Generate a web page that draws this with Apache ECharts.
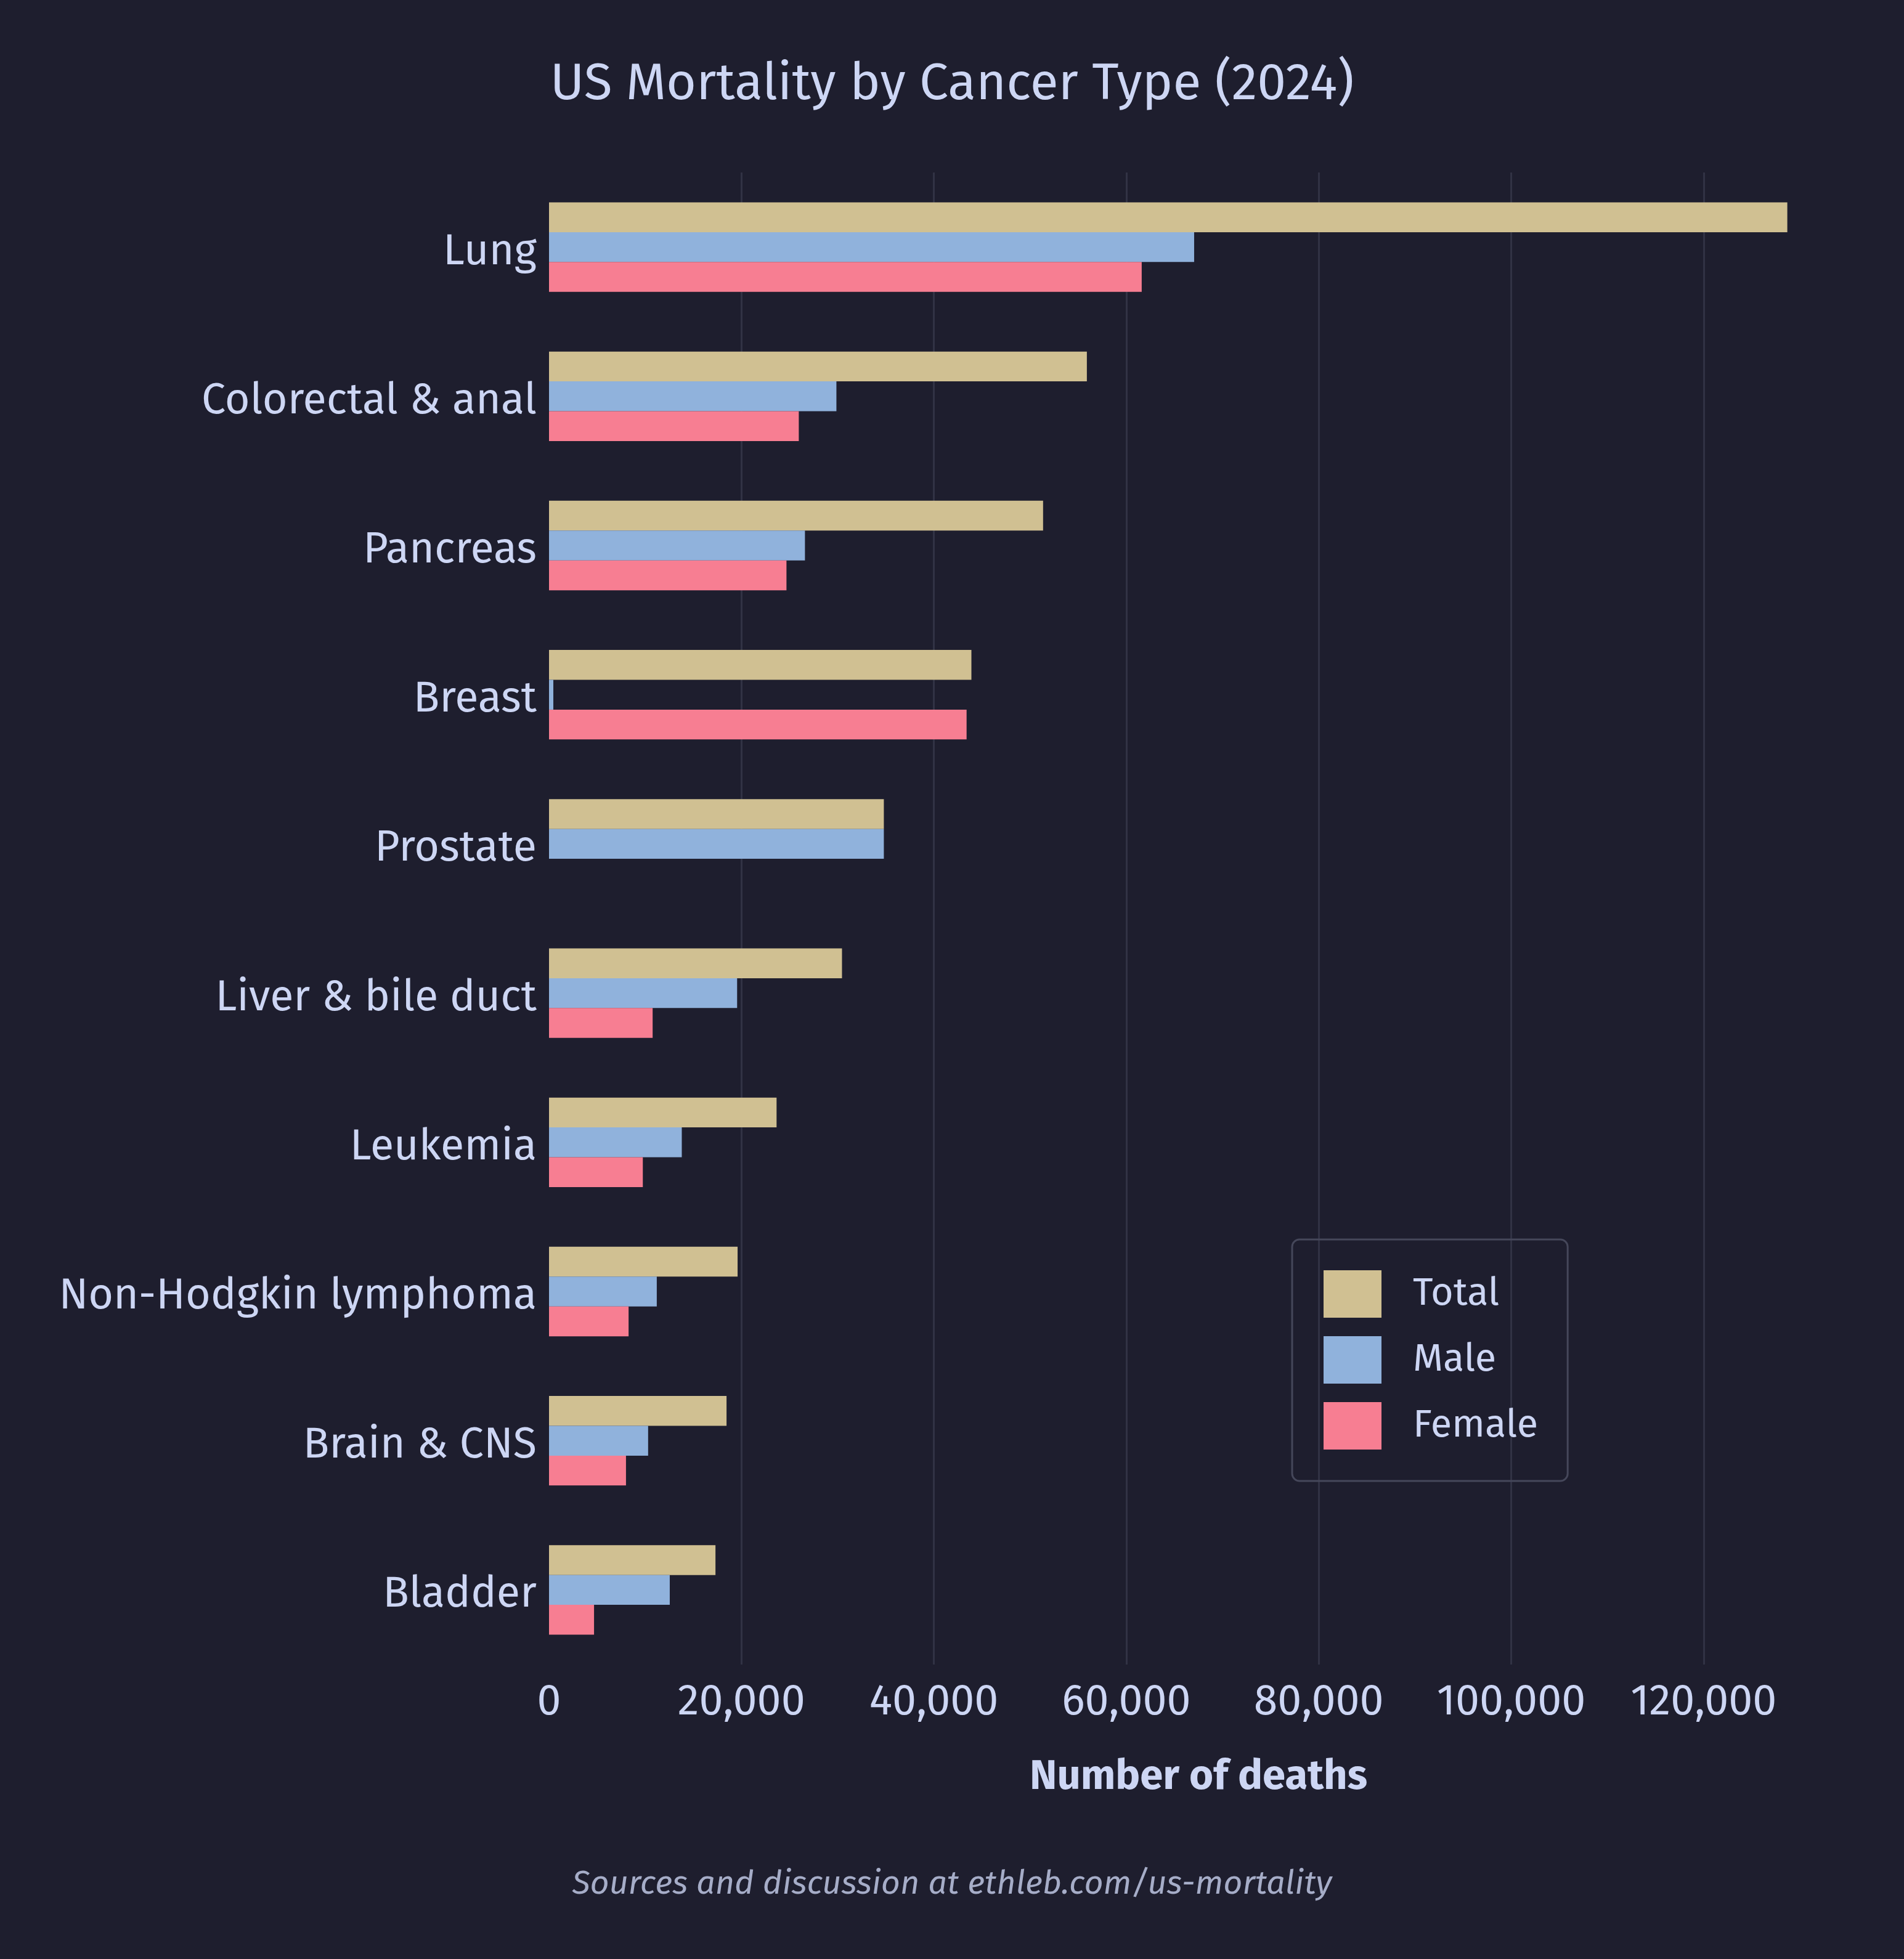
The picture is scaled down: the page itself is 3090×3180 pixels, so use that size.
<!DOCTYPE html>
<html>
<head>
<meta charset="utf-8">
<title>US Mortality by Cancer Type (2024)</title>
<script src="https://cdn.jsdelivr.net/npm/echarts@6/dist/echarts.min.js"></script>
<style>
  html, body { margin: 0; padding: 0; background: #1e1e2e; }
  #chart { width: 3090px; height: 3180px; }
</style>
</head>
<body>
<div id="chart"></div>
<script>
// categories, top to bottom
const categories = [
  'Lung', 'Colorectal & anal', 'Pancreas', 'Breast', 'Prostate',
  'Liver & bile duct', 'Leukemia', 'Non-Hodgkin lymphoma', 'Brain & CNS', 'Bladder'
];
// deaths
const totalDeaths  = [128700, 55900, 51350, 43900, 34800, 30450, 23650, 19600, 18450, 17300];
const maleDeaths   = [67050, 29870, 26600, 450, 34800, 19550, 13800, 11200, 10300, 12550];
const femaleDeaths = [61600, 25960, 24680, 43400, 0, 10770, 9750, 8270, 8000, 4680];
// x ticks with a gridline
const gridTicks = [20000, 40000, 60000, 80000, 100000, 120000];

const TEXT = '#cdd6f4';
const FONT = "'Fira Sans', 'Noto Sans', sans-serif";

const chart = echarts.init(document.getElementById('chart'));

const barSeries = (name, data, color) => ({
  name,
  type: 'bar',
  data,
  z: 3,
  barGap: '0%',
  barCategoryGap: '40%',
  itemStyle: { color },
  emphasis: { disabled: true },
});

chart.setOption({
  backgroundColor: '#1e1e2e',
  textStyle: { fontFamily: FONT },
  animation: false,
  title: [
    {
      text: 'US Mortality by Cancer Type (2024)',
      left: 'center',
      top: 96,
      padding: 0,
      textStyle: { color: TEXT, fontSize: 84, fontWeight: 'normal', fontFamily: FONT },
    },
    {
      text: 'Sources and discussion at ethleb.com/us-mortality',
      left: 'center',
      top: 3032,
      padding: 0,
      textStyle: { color: '#a6adc8', fontSize: 54, fontStyle: 'italic', fontWeight: 'normal', fontFamily: FONT },
    },
  ],
  legend: {
    data: ['Total', 'Male', 'Female'],
    orient: 'vertical',
    left: 2097,
    top: 2012,
    padding: [50, 48, 51, 51],
    icon: 'rect',
    itemWidth: 94,
    itemHeight: 77,
    itemGap: 30,
    borderColor: '#45475a',
    borderWidth: 3,
    borderRadius: 12,
    textStyle: { color: TEXT, fontSize: 63, fontFamily: FONT, padding: [4, 0, 0, 46] },
  },
  grid: { left: 891, top: 280, width: 2108, height: 2422, containLabel: false },
  xAxis: {
    type: 'value',
    min: 0,
    max: 135000,
    interval: 20000,
    name: 'Number of deaths',
    nameLocation: 'middle',
    nameGap: 150,
    nameTextStyle: { color: TEXT, fontSize: 67, fontWeight: 'bold', fontFamily: FONT },
    axisLine: { show: false },
    axisTick: { show: false },
    splitLine: { show: false },
    axisLabel: {
      color: TEXT,
      fontSize: 70,
      margin: 26,
      fontFamily: FONT,
      showMaxLabel: false,
      formatter: (v) => (v % 20000 === 0 ? v.toLocaleString('en-US') : ''),
    },
  },
  yAxis: {
    type: 'category',
    data: categories,
    inverse: true,
    axisLine: { show: false },
    axisTick: { show: false },
    splitLine: { show: false },
    axisLabel: {
      margin: 20,
      formatter: '{c|{value}}',
      rich: {
        c: { color: TEXT, fontSize: 70, fontFamily: FONT, lineHeight: 70, padding: [16, 0, 0, 0] },
      },
    },
  },
  series: [
    // gridlines behind the bars
    {
      name: 'grid',
      type: 'line',
      data: [],
      z: 1,
      silent: true,
      markLine: {
        z: 1,
        silent: true,
        symbol: ['none', 'none'],
        label: { show: false },
        lineStyle: { color: '#313244', width: 3, type: 'solid' },
        data: gridTicks.map((v) => ({ xAxis: v })),
      },
    },
    barSeries('Total', totalDeaths, '#d0c092'),
    barSeries('Male', maleDeaths, '#90b2dc'),
    barSeries('Female', femaleDeaths, '#f77e92'),
  ],
});
</script>
</body>
</html>
